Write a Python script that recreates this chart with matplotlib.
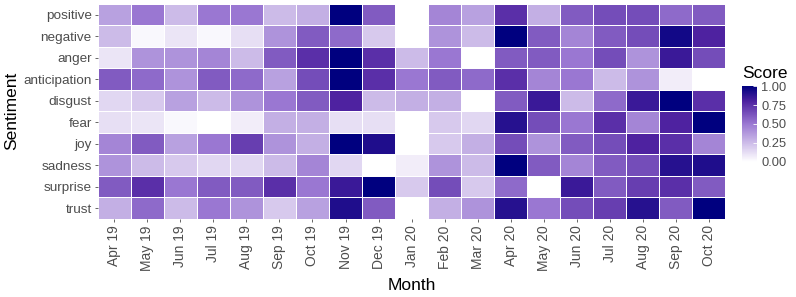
import numpy as np
import matplotlib.pyplot as plt
from matplotlib.colors import LinearSegmentedColormap

plt.rcParams['font.family'] = ['Liberation Sans', 'DejaVu Sans']

# months on the x axis
months = ["Apr 19", "May 19", "Jun 19", "Jul 19", "Aug 19", "Sep 19", "Oct 19",
          "Nov 19", "Dec 19", "Jan 20", "Feb 20", "Mar 20", "Apr 20", "May 20",
          "Jun 20", "Jul 20", "Aug 20", "Sep 20", "Oct 20"]

# sentiments, top to bottom
sentiments = ["positive", "negative", "anger", "anticipation", "disgust",
              "fear", "joy", "sadness", "surprise", "trust"]

# scores (0..1)
positive     = [0.35, 0.50, 0.25, 0.50, 0.50, 0.25, 0.30, 1.00, 0.60, 0.00, 0.45, 0.35, 0.75, 0.30, 0.60, 0.65, 0.65, 0.55, 0.60]
negative     = [0.25, 0.03, 0.10, 0.03, 0.12, 0.40, 0.60, 0.55, 0.20, 0.00, 0.40, 0.25, 1.00, 0.60, 0.45, 0.60, 0.65, 0.95, 0.80]
anger        = [0.10, 0.40, 0.40, 0.45, 0.25, 0.60, 0.75, 1.00, 0.75, 0.25, 0.50, 0.00, 0.60, 0.60, 0.50, 0.65, 0.40, 0.85, 0.65]
anticipation = [0.60, 0.55, 0.40, 0.60, 0.55, 0.35, 0.65, 1.00, 0.75, 0.50, 0.60, 0.55, 0.75, 0.45, 0.50, 0.25, 0.40, 0.07, 0.00]
disgust      = [0.15, 0.20, 0.35, 0.25, 0.40, 0.50, 0.60, 0.80, 0.25, 0.30, 0.30, 0.00, 0.60, 0.85, 0.25, 0.55, 0.85, 1.00, 0.75]
fear         = [0.12, 0.10, 0.03, 0.00, 0.07, 0.30, 0.30, 0.12, 0.12, 0.00, 0.20, 0.15, 0.90, 0.65, 0.50, 0.75, 0.45, 0.80, 1.00]
joy          = [0.45, 0.60, 0.35, 0.50, 0.70, 0.40, 0.30, 1.00, 0.92, 0.00, 0.20, 0.30, 0.65, 0.40, 0.60, 0.65, 0.80, 0.75, 0.45]
sadness      = [0.40, 0.25, 0.20, 0.15, 0.15, 0.25, 0.45, 0.15, 0.00, 0.07, 0.40, 0.25, 1.00, 0.60, 0.45, 0.60, 0.65, 0.90, 0.92]
surprise     = [0.60, 0.75, 0.50, 0.60, 0.60, 0.75, 0.50, 0.85, 1.00, 0.20, 0.65, 0.20, 0.55, 0.00, 0.85, 0.60, 0.70, 0.75, 0.60]
trust        = [0.30, 0.55, 0.25, 0.50, 0.40, 0.20, 0.35, 0.92, 0.60, 0.00, 0.30, 0.40, 0.90, 0.50, 0.65, 0.70, 0.90, 0.60, 1.00]

scores = np.array([positive, negative, anger, anticipation, disgust,
                   fear, joy, sadness, surprise, trust])

cmap = LinearSegmentedColormap.from_list(
    "score", [(0.0, "#ffffff"), (0.5, "#9a78d2"), (0.8, "#4e22a0"), (1.0, "#00007f")])

fig = plt.figure(figsize=(7.96, 2.97), dpi=100)
ax = fig.add_axes([0.123, 0.263, 0.788, 0.724])

mesh = ax.pcolormesh(np.arange(len(months) + 1) - 0.5,
                     np.arange(len(sentiments) + 1) - 0.5,
                     scores, cmap=cmap, vmin=0, vmax=1,
                     edgecolors="white", linewidth=0.4)
ax.set_xlim(-0.5, len(months) - 0.5)
ax.set_ylim(len(sentiments) - 0.5, -0.5)

ax.set_xticks(range(len(months)))
ax.set_xticklabels(months, rotation=90, fontsize=10, color="#4d4d4d")
ax.set_yticks(range(len(sentiments)))
ax.set_yticklabels(sentiments, fontsize=9.7, color="#4d4d4d")
ax.tick_params(length=2.5, width=0.6, color="#4d4d4d", pad=2)
for s in ax.spines.values():
    s.set_visible(False)

ax.set_xlabel("Month", fontsize=12.5, labelpad=5)
ax.set_ylabel("Sentiment", fontsize=12.5, labelpad=3)

cax = fig.add_axes([0.932, 0.455, 0.019, 0.255])
cb = fig.colorbar(mesh, cax=cax, ticks=[0, 0.25, 0.5, 0.75, 1.0])
cb.ax.set_yticklabels(["0.00", "0.25", "0.50", "0.75", "1.00"], fontsize=9.3, color="#4d4d4d")
cb.ax.tick_params(length=3, color="white", width=0.6, direction="in", pad=3)
cb.outline.set_visible(False)
cax.set_title("Score", fontsize=12.5, loc="left", pad=6)

fig.savefig("out.png", dpi=100)
